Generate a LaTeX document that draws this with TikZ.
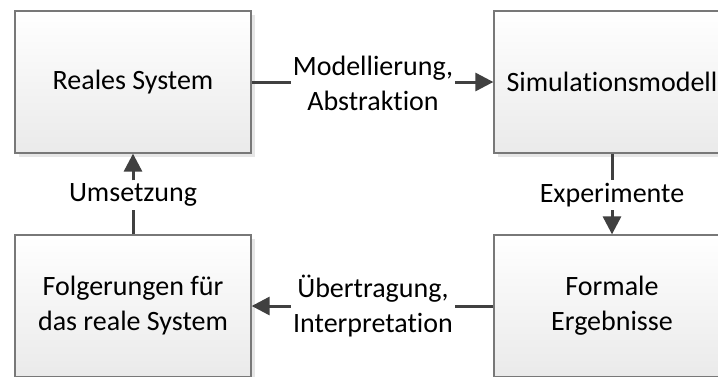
\documentclass[tikz,border=0pt]{standalone}
\usepackage{fontspec}
\setmainfont{Carlito}[Ligatures=NoCommon]
\usetikzlibrary{arrows.meta,shadows}
\definecolor{boxedge}{HTML}{787878}
\definecolor{boxfill}{HTML}{EAEAEA}
\definecolor{shadefill}{HTML}{E6E6E6}
\definecolor{linkgray}{HTML}{404040}
\begin{document}
\begin{tikzpicture}[x=1pt,y=-1pt,
  every node/.style={font=\fontsize{28}{35}\selectfont},
  box/.style={draw=boxedge, line width=1.3pt, shading=axis, top color=white,
    bottom color=boxfill, minimum width=236pt, minimum height=142pt,
    inner sep=0pt, align=center,
    general shadow={fill=shadefill, shadow xshift=4pt, shadow yshift=-4pt}},
  lab/.style={align=center, inner xsep=2pt, inner ysep=3pt},
  link/.style={draw=linkgray, line width=3pt},
  tip/.style={link, -{Triangle[length=18pt,width=18pt]}}]
\useasboundingbox (0,0) rectangle (718,376);
\clip (0,0) rectangle (718,376);
\fill[white] (0,0) rectangle (718,376);

% the four stages of the simulation cycle
\node[box] (real) at (133,82) {Reales System};
\node[box] (sim)  at (612,82) {Simulationsmodell};
\node[box] (res)  at (612,306) {Formale\\Ergebnisse};
\node[box] (conc) at (133,306) {Folgerungen für\\das reale System};

% transition labels
\node[lab] (l1) at (373,83)  {Modellierung,\\Abstraktion};
\node[lab] (l2) at (612,195) {Experimente};
\node[lab] (l3) at (373,306) {Übertragung,\\Interpretation};
\node[lab] (l4) at (133,195) {Umsetzung};

% connectors, interrupted by their labels
\draw[link] (real.east) -- (real.east -| l1.west);
\draw[tip]  (sim.west -| l1.east) -- (sim.west);
\draw[link] (sim.south) -- (l2.north);
\draw[tip]  (l2.south) -- (res.north);
\draw[link] (res.west) -- (res.west -| l3.east);
\draw[tip]  (conc.east -| l3.west) -- (conc.east);
\draw[link] (conc.north) -- (l4.south);
\draw[tip]  (l4.north) -- (real.south);
\end{tikzpicture}
\end{document}
